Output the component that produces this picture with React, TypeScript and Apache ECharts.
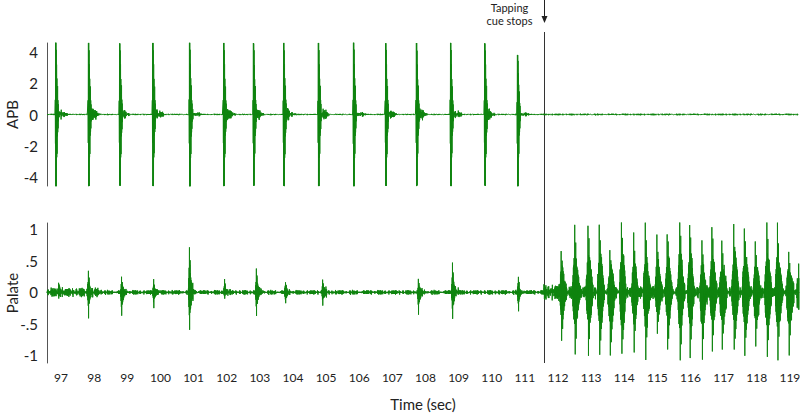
import React, { useEffect, useRef } from "react";
import * as echarts from "echarts";

// ---- Axis ranges & tick labels ----
const xMin = 96.5;
const xMax = 119.2;
const xTicks = [97, 98, 99, 100, 101, 102, 103, 104, 105, 106, 107, 108, 109, 110, 111, 112, 113, 114, 115, 116, 117, 118, 119];
const apbRange = [-4.6, 4.6];
const apbTickValues = [-4, -2, 0, 2, 4];
const apbTickLabels = ["-4", "-2", "0", "2", "4"];
const palateRange = [-1.12, 1.1];
const palateTickValues = [-1, -0.5, 0, 0.5, 1];
const palateTickLabels = ["-1", "-.5", "0", ".5", "1"];
const cueStopTime = 111.5;

// ---- APB (tapping EMG) spikes ----
const apbSpikeTimes = [96.76, 97.75, 98.69, 99.69, 100.8, 101.83, 102.73, 103.64, 104.69, 105.75, 106.72, 107.65, 108.68, 109.71, 110.7];
const apbSpikeUp = [4.6, 4.6, 4.6, 4.6, 4.6, 4.6, 4.6, 4.6, 4.6, 4.6, 4.6, 4.6, 4.6, 4.6, 3.8];
const apbSpikeDown = [-4.6, -4.6, -4.6, -4.6, -4.6, -4.6, -4.6, -4.6, -4.6, -4.6, -4.6, -4.6, -4.6, -4.6, -4.6];
const apbTailAmp = [0.5, 0.6, 0.45, 0.5, 0.5, 0.55, 0.5, 0.6, 0.55, 0.5, 0.45, 0.55, 0.5, 0.45, 0.35];
// baseline noise level: [start time, amplitude]
const apbNoiseLevels = [[96.5, 0.05], [111.5, 0.06]];

// ---- Palate EMG: spikes during tapping ----
const palateSpikeTimes = [96.85, 97.75, 98.75, 99.72, 100.8, 101.86, 102.82, 103.7, 104.82, 107.71, 108.74, 110.73];
const palateSpikeUp = [0.2, 0.35, 0.22, 0.2, 0.7, 0.2, 0.35, 0.15, 0.2, 0.2, 0.5, 0.25];
const palateSpikeDown = [-0.15, -0.38, -0.35, -0.25, -0.58, -0.1, -0.35, -0.15, -0.2, -0.35, -0.45, -0.3];
// ---- Palate EMG: tremor bursts after the cue stops ----
const palateBurstTimes = [112.02, 112.43, 112.83, 113.17, 113.49, 113.84, 114.21, 114.56, 114.91, 115.22, 115.6, 115.9, 116.27, 116.57, 116.87, 117.23, 117.55, 117.88, 118.23, 118.55, 118.89, 119.19];
const palateBurstUp = [0.67, 1.06, 1.1, 1.1, 0.73, 1.1, 0.9, 1.1, 0.9, 0.98, 1.1, 1.1, 0.83, 1.1, 0.87, 1.1, 1.1, 0.78, 1.1, 1.1, 0.73, 0.45];
const palateBurstDown = [-0.73, -1.0, -1.05, -1.05, -1.05, -1.0, -0.92, -1.05, -0.65, -0.9, -1.05, -0.97, -1.05, -0.97, -1.0, -1.0, -1.05, -0.83, -1.05, -1.05, -1.05, -0.6];
const palateNoiseLevels = [[96.5, 0.08], [98.2, 0.04], [111.5, 0.15], [112.15, 0.11]];

// ---- hand-typed waveform shapes (normalized) ----
const noiseA = [0.3, -0.7, 0.9, -0.2, 0.5, -1, 0.6, -0.4, 0.1, 0.8, -0.6, 0.2, -0.9, 0.7, -0.3, 0.4, -0.8, 1, -0.5, 0.2, -0.1, 0.6, -0.7, 0.3, -0.4, 0.9, -0.6, 0.5, -0.2];
const noiseB = [-0.5, 0.8, -0.3, 0.6, -0.9, 0.2, 0.4, -0.7, 1, -0.2, 0.5, -0.6, 0.3, -1, 0.7, -0.1, 0.4];
const apbSpikeShape = [0.2, -0.4, 1, -1, 1, -1, 0.9, -1, 0.7, -0.6, 0.5, -0.55, 0.35, -0.3, 0.4, -0.25, 0.2, -0.2, 0.15, -0.1];
const palateSpikeShape = [0.1, -0.2, 0.3, -0.35, 0.5, -0.6, 1, -1, 0.6, -0.5, 0.7, -0.45, 0.4, -0.4, 0.3, -0.25, 0.25, -0.3, 0.2, -0.2, 0.15, -0.15, 0.1, -0.1];
const palateBurstShape = [0.1, -0.15, 0.2, -0.25, 0.3, -0.3, 0.35, -0.4, 0.45, -0.35, 0.4, -0.5, 1, -0.45, 0.5, -1, 0.55, -0.45, 0.75, -0.5, 0.45, -0.7, 0.5, -0.4, 0.4, -0.5, 0.45, -0.35, 0.35, -0.4, 0.3, -0.3, 0.28, -0.3, 0.25, -0.2, 0.2, -0.22, 0.15, -0.15, 0.12, -0.1, 0.1, -0.1];

const DT = 0.005;

function noiseAt(i: number) {
  return (noiseA[i % noiseA.length] + noiseB[i % noiseB.length]) / 2;
}
function levelAt(levels: number[][], t: number) {
  let l = levels[0][1];
  for (const [s, a] of levels) if (t >= s) l = a;
  return l;
}

function buildTrace(
  levels: number[][],
  events: { times: number[]; up: number[]; down: number[]; shape: number[]; tail: number[]; tailDur: number }[]
) {
  const n = Math.round((xMax - xMin) / DT) + 1;
  const vals = new Array(n);
  for (let i = 0; i < n; i++) {
    const t = xMin + i * DT;
    vals[i] = levelAt(levels, t) * noiseAt(i);
  }
  for (const ev of events) {
    const peakIdx = ev.shape.indexOf(1);
    ev.times.forEach((te, k) => {
      const start = Math.round((te - xMin) / DT) - peakIdx;
      ev.shape.forEach((s, j) => {
        const idx = start + j;
        if (idx >= 0 && idx < n) vals[idx] += s >= 0 ? s * ev.up[k] : s * -ev.down[k];
      });
      const tailN = Math.round(ev.tailDur / DT);
      for (let j = 0; j < tailN; j++) {
        const idx = start + ev.shape.length + j;
        if (idx >= 0 && idx < n) vals[idx] += ev.tail[k] * (1 - j / tailN) * noiseAt(idx + 7);
      }
    });
  }
  return vals.map((v: number, i: number) => [+(xMin + i * DT).toFixed(3), v]);
}

const apbData = buildTrace(apbNoiseLevels, [
  { times: apbSpikeTimes, up: apbSpikeUp, down: apbSpikeDown, shape: apbSpikeShape, tail: apbTailAmp, tailDur: 0.3 },
]);
const palateData = buildTrace(palateNoiseLevels, [
  {
    times: palateSpikeTimes,
    up: palateSpikeUp,
    down: palateSpikeDown,
    shape: palateSpikeShape,
    tail: palateSpikeUp.map((u) => u * 0.35),
    tailDur: 0.15,
  },
  {
    times: palateBurstTimes,
    up: palateBurstUp,
    down: palateBurstDown,
    shape: palateBurstShape,
    tail: palateBurstUp.map(() => 0),
    tailDur: 0,
  },
]);

const FONT = "Lato, 'Open Sans', sans-serif";
const TEXT = "#222";
const AXIS = "#555";
const GREEN = "#118511";

export default function App() {
  const ref = useRef<HTMLDivElement>(null);
  useEffect(() => {
    if (!ref.current) return;
    const chart = echarts.init(ref.current, undefined, { renderer: "svg" });
    chart.setOption({
      animation: false,
      backgroundColor: "#fff",
      textStyle: { fontFamily: FONT },
      grid: [
        { left: 47, top: 43, width: 752, height: 143, outerBoundsMode: "none", containLabel: false },
        { left: 47, top: 223, width: 752, height: 140, outerBoundsMode: "none", containLabel: false },
      ],
      xAxis: [
        { type: "value", gridIndex: 0, min: xMin, max: xMax, show: false },
        {
          type: "value",
          gridIndex: 1,
          min: xMin,
          max: xMax,
          axisLine: { show: true, lineStyle: { color: AXIS, width: 1 } },
          axisTick: { show: false },
          splitLine: { show: false },
          axisLabel: {
            customValues: xTicks,
            color: TEXT,
            fontSize: 12,
            margin: 8,
            padding: [0, 5, 0, 0],
            fontFamily: FONT,
            formatter: (v: number) => String(v),
          },
          name: "Time (sec)",
          nameLocation: "middle",
          nameGap: 33,
          nameTextStyle: { color: TEXT, fontSize: 15, fontFamily: FONT },
        },
      ],
      yAxis: [
        {
          type: "value",
          gridIndex: 0,
          min: apbRange[0],
          max: apbRange[1],
          axisLine: { show: true, lineStyle: { color: AXIS, width: 1 } },
          axisTick: { show: false },
          splitLine: { show: false },
          axisLabel: {
            customValues: apbTickValues,
            color: TEXT,
            fontSize: 15,
            margin: 9,
            fontFamily: FONT,
            formatter: (v: number) => apbTickLabels[apbTickValues.indexOf(v)] ?? "",
          },
          name: "APB",
          nameLocation: "middle",
          nameRotate: 90,
          nameGap: 28,
          nameMoveOverlap: false,
          nameTextStyle: { color: TEXT, fontSize: 15, fontFamily: FONT },
        },
        {
          type: "value",
          gridIndex: 1,
          min: palateRange[0],
          max: palateRange[1],
          axisLine: { show: true, lineStyle: { color: AXIS, width: 1 } },
          axisTick: { show: false },
          splitLine: { show: false },
          axisLabel: {
            customValues: palateTickValues,
            color: TEXT,
            fontSize: 15,
            margin: 9,
            fontFamily: FONT,
            formatter: (v: number) => palateTickLabels[palateTickValues.indexOf(v)] ?? "",
          },
          name: "Palate",
          nameLocation: "middle",
          nameRotate: 90,
          nameGap: 28,
          nameMoveOverlap: false,
          nameTextStyle: { color: TEXT, fontSize: 15, fontFamily: FONT },
        },
      ],
      series: [
        {
          name: "APB",
          type: "line",
          xAxisIndex: 0,
          yAxisIndex: 0,
          data: apbData,
          showSymbol: false,
          symbol: "none",
          silent: true,
          clip: true,
          lineStyle: { color: GREEN, width: 1 },
        },
        {
          name: "Palate",
          type: "line",
          xAxisIndex: 1,
          yAxisIndex: 1,
          data: palateData,
          showSymbol: false,
          symbol: "none",
          silent: true,
          clip: true,
          lineStyle: { color: GREEN, width: 1 },
        },
      ],
    });
    const xs = Math.round(chart.convertToPixel({ xAxisIndex: 1 }, cueStopTime) as number) + 0.5;
    const yBottom = chart.convertToPixel({ yAxisIndex: 1 }, palateRange[0]) as number;
    chart.setOption({
      graphic: [
        { type: "line", shape: { x1: xs, y1: 32, x2: xs, y2: yBottom }, style: { stroke: "#333", lineWidth: 1 } },
        { type: "line", shape: { x1: xs, y1: 0, x2: xs, y2: 18 }, style: { stroke: "#222", lineWidth: 1 } },
        { type: "polygon", shape: { points: [[xs - 3, 16], [xs + 3, 16], [xs, 23]] }, style: { fill: "#222" } },
        {
          type: "text",
          x: xs - 35,
          y: 7,
          style: { text: "Tapping", fill: TEXT, font: `11px ${FONT}`, align: "center", verticalAlign: "middle" },
        },
        {
          type: "text",
          x: xs - 35,
          y: 20,
          style: { text: "cue stops", fill: TEXT, font: `11px ${FONT}`, align: "center", verticalAlign: "middle" },
        },
      ],
    });
    return () => chart.dispose();
  }, []);
  return <div ref={ref} style={{ position: "fixed", left: 0, top: 0, width: 800, height: 414, background: "#fff" }} />;
}
